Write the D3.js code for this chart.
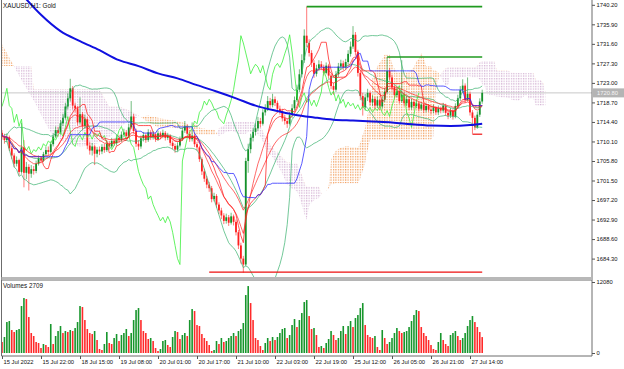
<!DOCTYPE html>
<html lang="en">
<head>
<meta charset="UTF-8" />
<title>XAUUSD H1</title>
<script src="https://cdn.jsdelivr.net/npm/d3@7"></script>
<style>
  body { margin: 0; background: #fff; }
  svg text { font-family: "Liberation Sans", Arial, sans-serif; fill: #111; }
</style>
</head>
<body>
<svg id="chart" width="624" height="369"></svg>
<script>
// H1 bars, 15 Jul 06:00 -> 27 Jul 19:00 (opens are the previous close)
const firstOpen = 1712.0;
const closes = [
  1711.2, 1710.4, 1711.0, 1708.6, 1707.0, 1705.2, 1706.0, 1703.4, 1708.8, 1703.2,
  1704.5, 1703.0, 1704.0, 1703.6, 1705.2, 1706.4, 1705.9, 1707.3, 1708.2, 1707.8,
  1709.5, 1711.2, 1712.6, 1712.0, 1714.1, 1715.3, 1717.8, 1719.6, 1721.8, 1718.0,
  1717.4, 1714.3, 1716.1, 1713.5, 1715.0, 1709.2, 1708.1, 1709.0, 1707.4, 1708.3,
  1707.9, 1708.9, 1708.2, 1709.6, 1709.0, 1710.2, 1709.7, 1710.9, 1710.4, 1711.6,
  1712.1, 1711.3, 1713.2, 1715.6, 1712.4, 1709.6, 1709.0, 1710.8, 1711.5, 1710.4,
  1712.1, 1711.0, 1711.7, 1710.6, 1711.9, 1711.2, 1712.0, 1710.9, 1711.4, 1709.8,
  1709.1, 1708.3, 1709.2, 1710.6, 1712.5, 1713.4, 1711.8, 1710.6, 1711.4, 1709.5,
  1708.8, 1706.2, 1703.5, 1701.9, 1700.6, 1699.8, 1697.4, 1698.1, 1696.2, 1694.9,
  1693.8, 1692.6, 1693.4, 1692.2, 1693.6, 1692.4, 1690.1, 1687.2, 1684.3, 1683.0,
  1705.8, 1708.4, 1710.9, 1712.2, 1713.0, 1714.6, 1714.0, 1716.5, 1717.2, 1719.0,
  1718.1, 1719.4, 1718.6, 1717.3, 1716.8, 1715.2, 1714.6, 1714.0, 1715.9, 1717.4,
  1719.2, 1721.5, 1724.9, 1728.0, 1733.4, 1731.8, 1729.6, 1727.4, 1725.0, 1726.2,
  1727.1, 1726.5, 1725.2, 1726.8, 1724.6, 1722.3, 1721.5, 1724.9, 1726.6, 1727.3,
  1726.4, 1727.6, 1729.4, 1731.0, 1733.6, 1729.8, 1725.2, 1720.1, 1717.6, 1719.8,
  1720.8, 1718.7, 1719.5, 1718.0, 1719.2, 1717.8, 1719.3, 1721.0, 1725.6, 1724.2,
  1722.0, 1720.3, 1721.2, 1719.0, 1720.4, 1718.5, 1719.4, 1717.6, 1718.8, 1717.9,
  1718.5, 1717.3, 1718.2, 1717.0, 1717.9, 1717.1, 1716.8, 1717.6, 1716.5, 1717.4,
  1716.9, 1718.0, 1716.4, 1715.8, 1716.9, 1715.6, 1717.9, 1719.6, 1721.4, 1722.4,
  1719.2, 1720.6, 1716.5, 1715.3, 1713.2, 1716.0, 1718.9, 1720.8
];
const highs = [
  1712.6, 1711.8, 1711.9, 1711.4, 1709.1, 1707.5, 1706.8, 1706.3, 1714.2, 1710.4,
  1705.6, 1705.1, 1704.9, 1704.7, 1705.9, 1707.0, 1706.9, 1707.8, 1708.9, 1709.0,
  1710.1, 1711.9, 1713.4, 1713.3, 1714.8, 1716.2, 1718.6, 1720.7, 1723.9, 1722.3,
  1718.6, 1717.9, 1719.8, 1716.6, 1716.0, 1715.6, 1710.0, 1709.8, 1709.4, 1708.9,
  1709.0, 1709.5, 1709.6, 1710.3, 1710.2, 1710.9, 1710.8, 1711.6, 1711.5, 1712.3,
  1712.9, 1712.6, 1714.0, 1719.0, 1716.2, 1712.9, 1710.4, 1711.4, 1712.2, 1711.9,
  1712.8, 1712.6, 1712.4, 1712.0, 1712.5, 1712.3, 1712.7, 1712.4, 1712.0, 1711.7,
  1710.3, 1709.6, 1709.9, 1711.2, 1713.1, 1714.6, 1713.9, 1712.3, 1714.3, 1711.9,
  1710.0, 1709.2, 1706.6, 1704.1, 1702.5, 1701.2, 1700.3, 1698.8, 1698.5, 1696.7,
  1695.5, 1694.3, 1694.2, 1693.9, 1694.4, 1694.0, 1692.9, 1690.6, 1687.8, 1684.9,
  1706.5, 1709.6, 1711.8, 1713.0, 1714.1, 1715.5, 1715.3, 1717.2, 1718.3, 1720.1,
  1719.7, 1720.6, 1720.0, 1719.1, 1718.0, 1717.3, 1716.0, 1715.1, 1716.6, 1718.3,
  1720.0, 1722.6, 1726.0, 1729.3, 1734.8, 1739.8, 1732.6, 1730.2, 1728.0, 1727.0,
  1728.0, 1727.8, 1727.0, 1727.5, 1727.2, 1725.0, 1723.0, 1725.6, 1727.4, 1728.1,
  1727.9, 1728.3, 1730.2, 1732.1, 1735.5, 1734.2, 1730.3, 1725.8, 1720.8, 1720.6,
  1721.7, 1721.3, 1720.3, 1719.9, 1720.0, 1719.6, 1720.0, 1721.9, 1728.7, 1726.3,
  1724.8, 1722.5, 1722.0, 1721.7, 1728.0, 1721.0, 1720.1, 1719.9, 1719.5, 1719.2,
  1719.2, 1718.9, 1718.8, 1718.6, 1718.5, 1718.3, 1717.6, 1718.2, 1717.9, 1718.0,
  1717.8, 1718.6, 1718.4, 1716.9, 1717.5, 1717.2, 1718.5, 1720.4, 1722.3, 1723.8,
  1722.9, 1724.2, 1721.1, 1717.0, 1715.8, 1716.7, 1719.6, 1721.5
];
const lows = [
  1710.5, 1709.6, 1709.9, 1708.0, 1706.2, 1704.4, 1704.6, 1702.6, 1703.0, 1700.0,
  1701.8, 1699.3, 1702.1, 1702.8, 1703.1, 1704.8, 1705.3, 1705.6, 1706.9, 1707.0,
  1707.4, 1709.0, 1710.8, 1711.2, 1711.6, 1713.5, 1714.9, 1717.2, 1718.9, 1717.2,
  1716.5, 1713.6, 1713.8, 1712.6, 1712.9, 1708.4, 1707.2, 1707.0, 1704.9, 1706.6,
  1707.1, 1707.3, 1707.6, 1707.8, 1708.3, 1708.6, 1709.1, 1709.2, 1709.8, 1710.0,
  1711.0, 1710.7, 1711.0, 1712.8, 1711.8, 1708.9, 1708.2, 1708.5, 1710.1, 1709.8,
  1710.0, 1710.4, 1710.5, 1710.0, 1710.2, 1710.6, 1710.8, 1710.3, 1710.4, 1709.2,
  1708.4, 1707.6, 1707.9, 1708.8, 1710.2, 1712.0, 1711.2, 1710.0, 1710.1, 1708.9,
  1708.1, 1705.6, 1702.7, 1701.2, 1699.8, 1699.0, 1696.7, 1696.9, 1695.5, 1694.1,
  1693.0, 1691.9, 1692.0, 1691.5, 1691.8, 1691.6, 1689.4, 1686.4, 1683.2, 1681.2,
  1682.6, 1703.2, 1707.5, 1710.1, 1711.4, 1712.5, 1713.2, 1713.6, 1715.8, 1716.8,
  1717.4, 1717.6, 1717.9, 1716.6, 1716.0, 1714.5, 1713.8, 1713.1, 1713.6, 1715.3,
  1716.9, 1718.8, 1721.0, 1724.2, 1727.4, 1730.9, 1728.8, 1726.5, 1724.1, 1724.4,
  1725.6, 1725.8, 1724.6, 1724.9, 1723.9, 1721.6, 1720.4, 1721.0, 1724.3, 1725.9,
  1725.7, 1725.9, 1727.0, 1728.8, 1730.5, 1729.0, 1724.4, 1719.2, 1715.8, 1716.9,
  1719.0, 1718.0, 1717.9, 1717.2, 1717.5, 1717.0, 1717.3, 1718.8, 1720.6, 1723.5,
  1721.3, 1719.5, 1719.8, 1718.4, 1718.6, 1717.8, 1717.9, 1717.0, 1717.1, 1717.3,
  1717.4, 1716.7, 1716.9, 1716.4, 1716.5, 1716.6, 1716.1, 1716.3, 1715.9, 1715.9,
  1716.3, 1716.4, 1715.7, 1715.0, 1715.3, 1714.9, 1715.2, 1717.4, 1719.0, 1720.8,
  1718.6, 1718.9, 1715.8, 1711.8, 1712.6, 1712.9, 1715.5, 1718.4
];
const volumes = [
  1870, 2720, 5270, 5440, 3910, 3570, 3910, 4080, 7990, 9350, 9180, 6120, 3400, 2890, 1870, 1700, 850, 1530,
  1360, 1020, 4930, 1530, 2890, 3740, 4590, 3400, 3740, 3570, 3910, 3740, 4250, 5270, 7990, 7820, 5610, 4080, 3400, 3230, 3740, 2210, 680,
  510, 1530, 3570, 1700, 1530, 2550, 3230, 2040, 3060, 3400, 4080, 2890, 3400, 5610, 7310, 7650, 5610, 3740, 3400, 2380, 2550, 2040, 850,
  340, 680, 2040, 2210, 1360, 1020, 2720, 3740, 3570, 2380, 3060, 3400, 2890, 5610, 7480, 7140, 4760, 4590, 3230, 2550, 2040, 1360, 340,
  510, 2040, 1530, 2550, 1870, 2040, 2550, 2890, 3400, 2890, 3740, 4080, 5100, 9860, 11390, 8500, 5610, 2550, 2210, 1190, 510, 1700, 2550,
  2040, 2720, 2210, 2720, 3400, 4080, 4250, 2550, 3060, 4760, 5780, 4420, 5610, 6800, 8670, 9010, 6290, 4080, 4250, 3060, 1020, 1190, 850,
  1700, 2380, 3740, 3060, 2210, 2550, 3740, 4590, 3230, 4590, 5440, 4420, 5950, 6460, 7650, 8500, 4760, 3060, 2720, 2550, 2890, 1020, 510,
  3910, 2550, 1530, 1870, 2550, 3400, 4250, 3740, 3400, 3570, 3740, 4420, 5440, 6460, 7310, 7140, 4420, 3400, 2890, 2210, 1360, 680, 510,
  1870, 3400, 2210, 1530, 1190, 3060, 3400, 3740, 2890, 2210, 2550, 3400, 4590, 5610, 6290, 5270, 4420, 3570, 2709
];

// 200 MA (bar index -> value)
const ma200Bars = [9, 16, 24, 32, 40, 48, 56, 64, 72, 80, 88, 96, 104, 112, 120, 128, 136, 144, 152, 160, 168, 176, 184, 192, 197];
const ma200Values = [1742.0, 1738.0, 1734.4, 1732.2, 1730.2, 1728.0, 1726.7, 1725.1, 1724.0, 1722.5, 1721.1, 1719.6, 1718.0,
  1716.9, 1716.0, 1715.4, 1714.9, 1714.7, 1714.5, 1714.3, 1713.9, 1713.6, 1713.5, 1713.7, 1714.0];

// Ichimoku cloud before enough history is on screen
const cloudLeadBars = [0, 4, 8, 12, 13, 16, 20, 24, 28, 32, 36, 40, 44, 48, 52, 56, 60, 64, 68, 72, 76];
const cloudLeadA = [1731.5, 1727.6, 1723.6, 1720.0, 1719.2, 1716.0, 1712.0, 1710.5, 1709.4, 1709.0, 1709.2,
  1709.8, 1711.0, 1713.0, 1714.6, 1715.5, 1715.8, 1715.3, 1714.9, 1714.6, 1714.0];
const cloudLeadB = [1726.7, 1726.7, 1726.7, 1726.7, 1721.6, 1721.6, 1721.6, 1721.6, 1721.6, 1721.6, 1721.6,
  1721.6, 1717.8, 1717.8, 1717.0, 1715.8, 1714.3, 1713.2, 1713.2, 1713.0, 1712.8];

const levelPrices = [1739.8, 1728.7, 1681.3, 1711.7];
const levelStarts = [125, 158, 85, 193];
const levelKinds = ["high", "high", "low", "low"];

const priceTicks = [1740.2, 1735.9, 1731.6, 1727.3, 1723.0, 1718.7, 1714.4, 1710.1, 1705.8, 1701.5, 1697.2, 1692.9, 1688.6, 1684.3];
const volumeTicks = [12080, 0];
const timeLabels = ["15 Jul 2022", "15 Jul 22:00", "18 Jul 15:00", "19 Jul 08:00", "20 Jul 01:00", "20 Jul 17:00",
  "21 Jul 10:00", "22 Jul 03:00", "22 Jul 19:00", "25 Jul 12:00", "26 Jul 05:00", "26 Jul 21:00", "27 Jul 14:00"];
const labelStep = 16;
const lastPrice = 1720.8;

// ---------------------------------------------------------------
const svg = d3.select("#chart");
const plotLeft = 1.5, plotRight = 592;
const mainBottom = 277, volTop = 280, volBottom = 356;
const bull = "#14912a", bear = "#ff1f1f";

const opens = closes.map((c, i) => (i ? closes[i - 1] : firstOpen));
const bars = closes.map((c, i) => ({ i, o: opens[i], h: highs[i], l: lows[i], c, v: volumes[i] }));

const x = d3.scaleLinear().domain([0, 197]).range([2, 482.2]);
const y = d3.scaleLinear().domain([1684.3, 1740.2]).range([258.6, 4.8]);
const yv = d3.scaleLinear().domain([0, 12080]).range([353, 282]);

// indicators
function channelMid(n, i) {
  const s = Math.max(0, i - n + 1);
  return (d3.max(highs.slice(s, i + 1)) + d3.min(lows.slice(s, i + 1))) / 2;
}
const tenkan = bars.map(b => ({ i: b.i, v: channelMid(9, b.i) }));
const kijun = bars.map(b => ({ i: b.i, v: channelMid(26, b.i) }));
const cloud = cloudLeadBars.map((b, k) => ({ i: b, a: cloudLeadA[k], b: cloudLeadB[k] }));
for (let j = 78; j <= 197 + 26; j++) {
  const s = j - 26;
  cloud.push({ i: j, a: (tenkan[s].v + kijun[s].v) / 2, b: channelMid(52, s) });
}
const chikou = closes.slice(26).map((c, k) => ({ i: k, v: c }));

function ema(n) {
  const k = 2 / (n + 1);
  let e = closes[0];
  return closes.map((c, i) => { e = i ? e + k * (c - e) : c; return { i, v: e }; });
}
const ema1 = ema(10), ema2 = ema(21);

const bb = bars.slice(1).map(b => {
  const w = closes.slice(Math.max(0, b.i - 19), b.i + 1);
  const m = d3.mean(w);
  const sd = Math.sqrt(d3.mean(w, v => (v - m) ** 2));
  return { i: b.i, m, u: m + 2 * sd, l: m - 2 * sd };
});
const ma200 = ma200Bars.map((b, k) => ({ i: b, v: ma200Values[k] }));

// defs: clips + dotted cloud patterns
const defs = svg.append("defs");
defs.append("clipPath").attr("id", "mainClip").append("rect")
  .attr("x", plotLeft).attr("y", 0).attr("width", plotRight - plotLeft).attr("height", mainBottom);
defs.append("clipPath").attr("id", "volClip").append("rect")
  .attr("x", plotLeft).attr("y", volTop).attr("width", plotRight - plotLeft).attr("height", volBottom - volTop);

function dotPattern(id, color) {
  const p = defs.append("pattern").attr("id", id).attr("patternUnits", "userSpaceOnUse")
    .attr("x", 1.4).attr("y", 0).attr("width", 2.4375).attr("height", 2.6);
  p.append("rect").attr("width", 1.2).attr("height", 1.4).attr("fill", color);
}
dotPattern("dotSandy", "#f2a060");
dotPattern("dotThistle", "#d6b6d6");

const aboveB = d3.area().x(d => x(d.i)).y0(0).y1(d => y(d.b));
const belowB = d3.area().x(d => x(d.i)).y0(d => y(d.b)).y1(400);
defs.append("clipPath").attr("id", "clipAboveB").append("path").attr("d", aboveB(cloud));
defs.append("clipPath").attr("id", "clipBelowB").append("path").attr("d", belowB(cloud));

svg.append("rect").attr("width", 624).attr("height", 369).attr("fill", "#fff");

const main = svg.append("g").attr("clip-path", "url(#mainClip)");

// cloud
const spanArea = d3.area().x(d => x(d.i)).y0(d => y(d.b)).y1(d => y(d.a));
main.append("g").attr("clip-path", "url(#clipAboveB)")
  .append("path").attr("d", spanArea(cloud)).attr("fill", "url(#dotSandy)");
main.append("g").attr("clip-path", "url(#clipBelowB)")
  .append("path").attr("d", spanArea(cloud)).attr("fill", "url(#dotThistle)");

// last price line
main.append("line")
  .attr("x1", plotLeft).attr("x2", plotRight)
  .attr("y1", y(lastPrice)).attr("y2", y(lastPrice))
  .attr("stroke", "#c8c8c8").attr("stroke-width", 1);

// candles
const candle = main.append("g").selectAll("g").data(bars).enter().append("g")
  .attr("fill", d => (d.c >= d.o ? bull : bear))
  .attr("stroke", d => (d.c >= d.o ? bull : bear));
candle.append("line")
  .attr("x1", d => x(d.i)).attr("x2", d => x(d.i))
  .attr("y1", d => y(d.h)).attr("y2", d => y(d.l))
  .attr("stroke-width", 0.8).attr("stroke-opacity", 0.75);
candle.append("rect")
  .attr("x", d => x(d.i) - 0.9).attr("width", 1.8)
  .attr("y", d => y(Math.max(d.o, d.c)))
  .attr("height", d => Math.max(0.8, Math.abs(y(d.o) - y(d.c))))
  .attr("stroke", "none");

// indicator lines
const line = d3.line().x(d => x(d.i)).y(d => y(d.v));
function drawLine(data, color, width, opacity) {
  main.append("path").datum(data).attr("d", line)
    .attr("fill", "none").attr("stroke", color)
    .attr("stroke-width", width).attr("stroke-opacity", opacity);
}
drawLine(bb.map(d => ({ i: d.i, v: d.u })), "#3cb371", 0.9, 0.8);
drawLine(bb.map(d => ({ i: d.i, v: d.m })), "#3cb371", 0.9, 0.8);
drawLine(bb.map(d => ({ i: d.i, v: d.l })), "#3cb371", 0.9, 0.8);
drawLine(chikou, "#3ef03e", 0.9, 0.9);
drawLine(ema2, "#ff2020", 0.9, 0.75);
drawLine(ema1, "#ff2020", 0.9, 0.75);
drawLine(tenkan, "#ff2020", 0.9, 0.85);
drawLine(kijun, "#2828ff", 0.9, 0.85);
main.append("path").datum(ma200)
  .attr("d", d3.line().x(d => x(d.i)).y(d => y(d.v)).curve(d3.curveMonotoneX))
  .attr("fill", "none").attr("stroke", "#1010e0").attr("stroke-width", 2);

// horizontal levels from the extreme bars
const levelColor = { high: "#1f9a1f", low: "#ee1111" };
const levelWidth = { high: 1.7, low: 1.2 };
main.append("g").selectAll("line").data(levelPrices).enter().append("line")
  .attr("x1", (d, k) => x(levelStarts[k])).attr("x2", x(197))
  .attr("y1", d => y(d)).attr("y2", d => y(d))
  .attr("stroke", (d, k) => levelColor[levelKinds[k]])
  .attr("stroke-width", (d, k) => levelWidth[levelKinds[k]]);

// volumes
svg.append("g").attr("clip-path", "url(#volClip)")
  .selectAll("rect").data(bars).enter().append("rect")
  .attr("x", d => x(d.i) - 0.8).attr("width", 1.6)
  .attr("y", d => yv(d.v)).attr("height", d => yv(0) - yv(d.v))
  .attr("fill", d => (d.i > 0 && d.v > volumes[d.i - 1] ? "#17962c" : "#ff2a2a"));

// frame
const frame = svg.append("g").attr("stroke", "#6c6c6c").attr("fill", "none");
frame.append("line").attr("x1", plotLeft).attr("x2", plotLeft).attr("y1", 0).attr("y2", volBottom);
frame.append("line").attr("x1", plotRight).attr("x2", plotRight).attr("y1", 0).attr("y2", volBottom);
frame.append("line").attr("x1", plotLeft).attr("x2", plotRight).attr("y1", volBottom).attr("y2", volBottom);
svg.append("rect").attr("x", plotLeft).attr("y", mainBottom).attr("width", plotRight - plotLeft)
  .attr("height", volTop - mainBottom).attr("fill", "#b8b8b8");
frame.append("line").attr("x1", plotLeft).attr("x2", plotRight).attr("y1", volTop).attr("y2", volTop);

// axes
function styleAxis(g) {
  g.select(".domain").remove();
  g.selectAll(".tick line").attr("stroke", "#555");
  g.selectAll("text").attr("font-family", "Liberation Sans, Arial, sans-serif").attr("fill", "#222");
}
svg.append("g").attr("transform", `translate(${plotRight},0)`)
  .call(d3.axisRight(y).tickValues(priceTicks).tickFormat(d3.format(".2f")).tickSize(3).tickPadding(1.5))
  .call(styleAxis).selectAll("text").attr("font-size", 5.8);

svg.append("g").attr("transform", `translate(${plotRight},0)`)
  .call(d3.axisRight(yv).tickValues(volumeTicks).tickFormat(d3.format("d")).tickSize(3).tickPadding(1.5))
  .call(styleAxis).selectAll("text").attr("font-size", 5.8);

svg.append("g").attr("transform", `translate(0,${volBottom})`)
  .call(d3.axisBottom(x).tickValues(timeLabels.map((t, k) => k * labelStep))
    .tickFormat((d, k) => timeLabels[k]).tickSize(3).tickPadding(0.5))
  .call(styleAxis).selectAll("text")
  .attr("font-size", 5.8).attr("text-anchor", "start").attr("x", 1);

// last price tag
const tag = svg.append("g").attr("transform", `translate(${plotRight + 1},${y(lastPrice)})`);
tag.append("rect").attr("x", 0).attr("y", -4.5).attr("width", 31).attr("height", 9).attr("fill", "#b4b4b4");
tag.append("text").attr("x", 4).attr("dy", "0.34em").attr("font-size", 5.8).style("fill", "#f4f4f4")
  .text(d3.format(".2f")(lastPrice));

// captions
svg.append("text").attr("x", 3).attr("y", 8).attr("font-size", 6.3).text("XAUUSD,H1:  Gold");
svg.append("text").attr("x", 3).attr("y", 288).attr("font-size", 6.3)
  .text("Volumes " + volumes[volumes.length - 1]);
</script>
</body>
</html>
